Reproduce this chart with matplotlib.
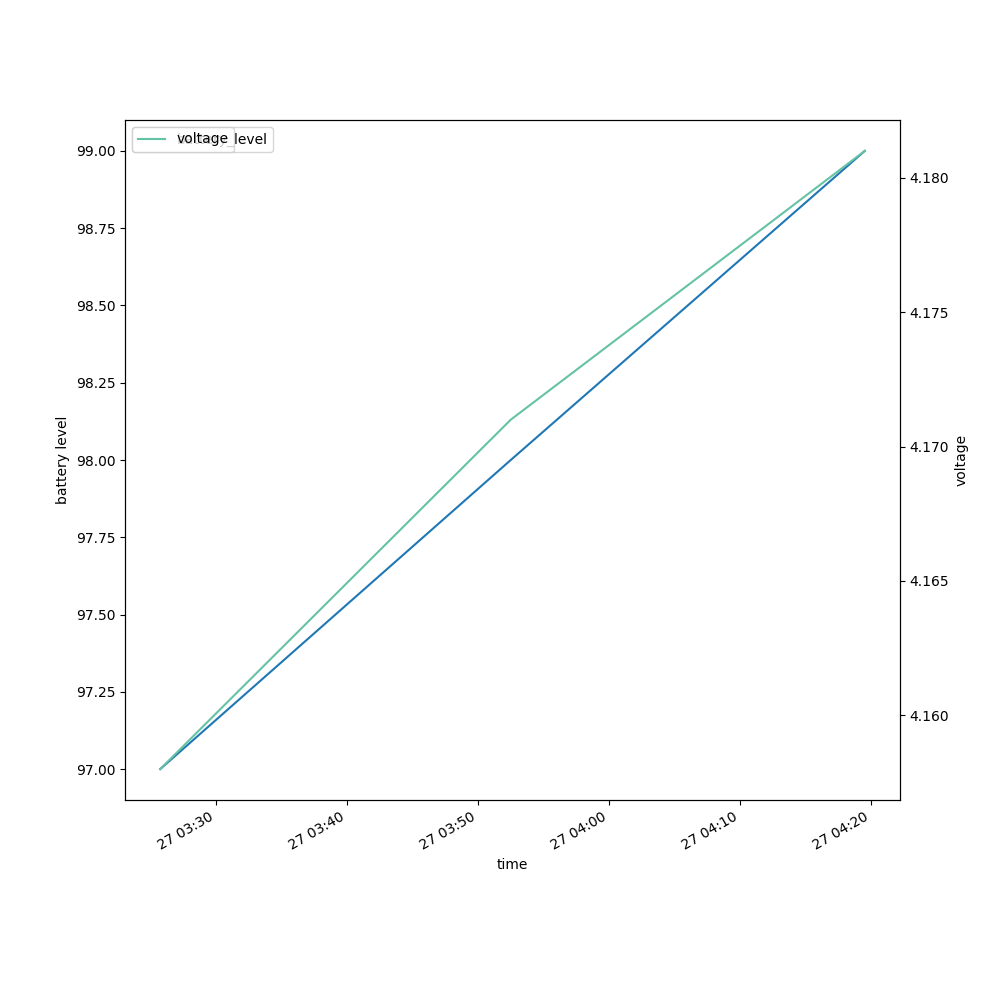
import matplotlib
matplotlib.use("Agg")
import matplotlib.pyplot as plt
import pandas as pd

times = pd.to_datetime(["2023-01-27 03:25:44", "2023-01-27 03:52:30", "2023-01-27 04:19:32"])
battery_level = [97, 98, 99]
voltage = [4.158, 4.171, 4.181]

fig, ax = plt.subplots(figsize=(10, 10), dpi=100)
ax.plot(times, battery_level, color="#1f77b4", label="battery_level")
ax.set_ylabel("battery level")
ax.set_xlabel("time")
ax.legend(loc="upper left")

ax2 = ax.twinx()
ax2.plot(times, voltage, color="#66c2a5", label="voltage")
ax2.set_ylabel("voltage")
ax2.legend(loc="upper left")

fig.autofmt_xdate()
fig.savefig("out.png", dpi=100)
